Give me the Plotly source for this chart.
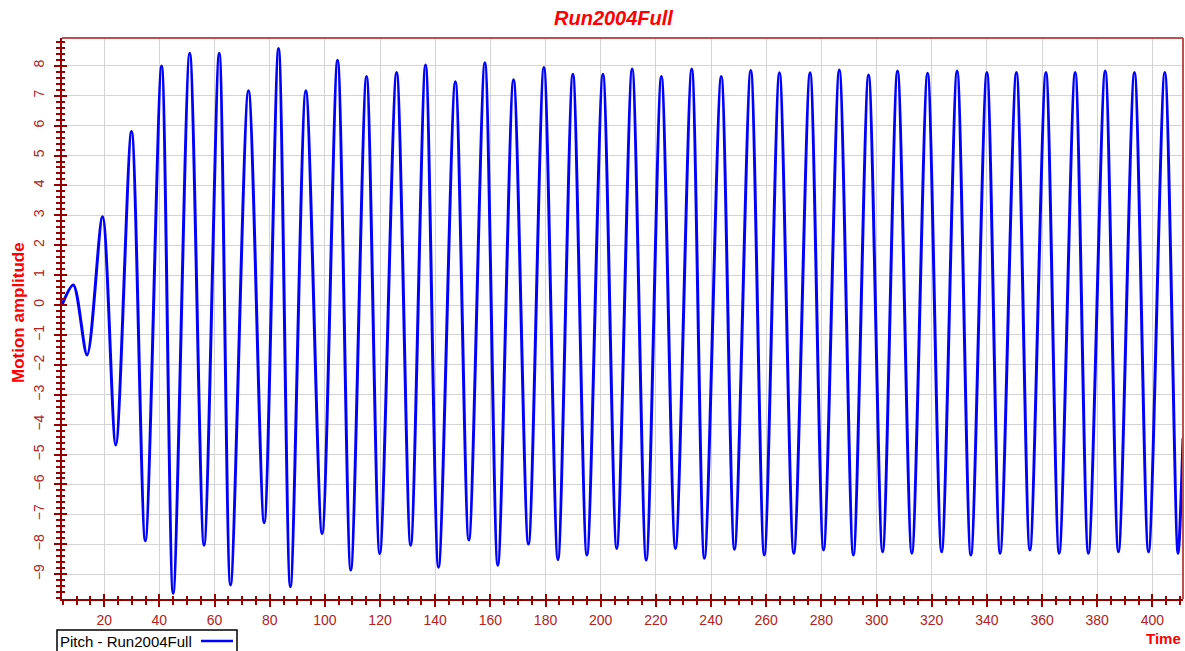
import plotly.graph_objects as go

# Extrema (time, pitch)
time_s = [4.7, 8.8, 13.8, 19.4, 24.2, 29.9, 34.9, 40.8, 45.0, 51.0, 56.2, 61.7, 65.8,
          72.3, 78.0, 83.2, 87.5, 93.1, 99.0, 104.6, 109.4, 115.1, 119.9, 126.0, 131.1,
          136.5, 141.2, 147.3, 152.2, 158.0, 162.7, 168.4, 173.8, 179.4, 184.5, 189.9,
          195.0, 200.8, 205.8, 211.4, 216.5, 222.0, 227.1, 233.0, 237.6, 243.7, 248.5,
          254.4, 259.3, 264.8, 270.0, 275.9, 280.8, 286.5, 291.6, 297.1, 302.2, 307.6,
          312.8, 318.5, 323.6, 329.2, 334.2, 340.0, 344.8, 350.7, 355.6, 361.4, 366.2,
          372.0, 376.8, 382.9, 387.7, 393.5, 398.6, 404.5, 409.3, 411.1]
pitch = [0.0, 0.67, -1.67, 2.95, -4.68, 5.8, -7.88, 7.99, -9.64, 8.42, -8.03, 8.42, -9.36,
         7.17, -7.28, 8.58, -9.42, 7.17, -7.64, 8.19, -8.86, 7.64, -8.31, 7.78, -8.03,
         8.03, -8.77, 7.47, -7.86, 8.10, -8.70, 7.53, -7.99, 7.94, -8.51, 7.72,
         -8.36, 7.72, -8.14, 7.89, -8.53, 7.64, -8.14, 7.89, -8.47, 7.64, -8.17,
         7.84, -8.36, 7.77, -8.30, 7.77, -8.19, 7.86, -8.36, 7.69, -8.25, 7.83,
         -8.30, 7.75, -8.25, 7.83, -8.36, 7.78, -8.30, 7.78, -8.19, 7.78, -8.30,
         7.78, -8.30, 7.83, -8.25, 7.78, -8.25, 7.78, -8.30, -4.45]

x_range = [4.7, 411.1]
y_range = [-9.83, 8.93]
x_ticks = [20, 40, 60, 80, 100, 120, 140, 160, 180, 200, 220, 240, 260, 280, 300,
           320, 340, 360, 380, 400]
y_ticks = [-9, -8, -7, -6, -5, -4, -3, -2, -1, 0, 1, 2, 3, 4, 5, 6, 7, 8]

W, H = 1185, 651
L, R, T, B = 62, 1183, 38, 599


def px(xp):
    return (xp - L) / (R - L)


def py(yp):
    return (B - yp) / (B - T)


AX = "#990000"
FONT = "Liberation Sans, Arial"
TICKFONT = dict(family=FONT, size=14, color="#b22222")

fig = go.Figure()
fig.add_trace(go.Scatter(x=time_s, y=pitch, mode="lines",
                         line=dict(color="#0000ff", width=3, shape="spline", smoothing=0.85),
                         name="Pitch - Run2004Full", showlegend=False))
# invisible trace carrying the inner-tick overlay axes
fig.add_trace(go.Scatter(x=[None], y=[None], xaxis="x2", yaxis="y2", showlegend=False,
                         hoverinfo="skip"))

fig.update_layout(
    width=W, height=H,
    margin=dict(l=L, r=W - R, t=T, b=H - B, pad=0, autoexpand=False),
    paper_bgcolor="white", plot_bgcolor="white",
    xaxis=dict(range=x_range, tickvals=x_ticks, showgrid=True, gridcolor="#d4d4d4",
               gridwidth=1, zeroline=False, showline=True, linecolor=AX, linewidth=2,
               mirror=False, ticks="outside", ticklen=6, tickwidth=2, tickcolor=AX,
               tickfont=TICKFONT, automargin=False, ticklabelstandoff=1,
               minor=dict(dtick=5, tick0=0, ticks="outside", ticklen=4, tickwidth=1.5,
                          tickcolor=AX, showgrid=False)),
    yaxis=dict(range=y_range, tickvals=y_ticks, showgrid=True, gridcolor="#d4d4d4",
               gridwidth=1, zeroline=False, showline=True, linecolor=AX, linewidth=2,
               ticks="outside", ticklen=6, tickwidth=2, tickcolor=AX, tickangle=-90,
               tickfont=TICKFONT, automargin=False, ticklabelstandoff=4,
               minor=dict(dtick=0.2, tick0=0, ticks="outside", ticklen=4, tickwidth=1.5,
                          tickcolor=AX, showgrid=False)),
    xaxis2=dict(range=x_range, overlaying="x", anchor="y2", side="bottom",
                tickvals=x_ticks, showticklabels=False, showgrid=False, zeroline=False,
                showline=False, ticks="inside", ticklen=5, tickwidth=2, tickcolor=AX,
                automargin=False,
                minor=dict(dtick=5, tick0=0, ticks="inside", ticklen=3, tickwidth=1.5,
                           tickcolor=AX, showgrid=False)),
    yaxis2=dict(range=y_range, overlaying="y", anchor="x2", side="left",
                tickvals=y_ticks, showticklabels=False, showgrid=False, zeroline=False,
                showline=False, ticks="inside", ticklen=5, tickwidth=2, tickcolor=AX,
                automargin=False,
                minor=dict(dtick=0.2, tick0=0, ticks="inside", ticklen=3, tickwidth=1.5,
                           tickcolor=AX, showgrid=False)),
    showlegend=False,
)

# top and right border
fig.add_shape(type="line", xref="paper", yref="paper", x0=0, x1=1, y0=1, y1=1,
              line=dict(color="#c0504d", width=2))
fig.add_shape(type="line", xref="paper", yref="paper", x0=1, x1=1, y0=0, y1=1,
              line=dict(color="#c0504d", width=2))

# title
fig.add_annotation(text="<b><i>Run2004Full</i></b>", xref="paper", yref="paper",
                   x=px(613), y=py(18), xanchor="center", yanchor="middle", showarrow=False,
                   font=dict(family=FONT, size=20, color="#ff0000"))
# y title
fig.add_annotation(text="<b>Motion amplitude</b>", xref="paper", yref="paper",
                   x=px(18), y=py(313), xanchor="center", yanchor="middle", showarrow=False,
                   textangle=-90,
                   font=dict(family=FONT, size=17, color="#ff0000"))
# x title
fig.add_annotation(text="<b>Time</b>", xref="paper", yref="paper",
                   x=px(1183), y=py(638), xanchor="right", yanchor="middle", showarrow=False,
                   font=dict(family=FONT, size=15, color="#ff0000"))

# legend box
fig.add_shape(type="rect", xref="paper", yref="paper", x0=px(57), x1=px(237),
              y0=py(656), y1=py(630), line=dict(color="black", width=1.5),
              fillcolor="white")
fig.add_annotation(text="Pitch - Run2004Full", xref="paper", yref="paper",
                   x=px(58), y=py(641), xanchor="left", yanchor="middle", showarrow=False,
                   font=dict(family=FONT, size=15, color="black"))
fig.add_shape(type="line", xref="paper", yref="paper", x0=px(201), x1=px(233),
              y0=py(641), y1=py(641), line=dict(color="#0000ff", width=2.5))

fig.write_html("out.html", config={"displayModeBar": False},
               post_script="document.body.style.margin='0px';document.body.style.overflow='hidden';")
